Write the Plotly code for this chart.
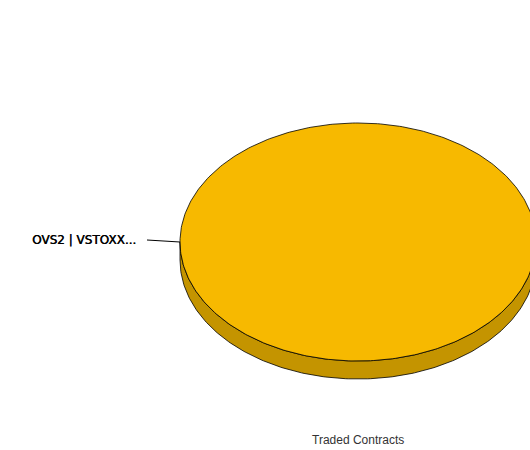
import numpy as np
import plotly.graph_objects as go

# ---- data ----
categories = ["OVS2 | VSTOXX..."]
values = [100.0]
title_text = "Traded Contracts"

# ---- layout parameters (pixels) ----
W, H = 530, 450
cx, cy = 358, 242
rx, ry = 178, 119
depth = 18
top_color = "#F7B900"
side_color = "#C49400"

fig = go.Figure()

total = sum(values)
start = -np.pi / 2
for cat, v in zip(categories, values):
    span = 2 * np.pi * v / total
    end = start + span
    a0, a1 = max(start, 0), min(end, np.pi)
    if end - start >= 2 * np.pi - 1e-9:
        a0, a1 = 0, np.pi
    t = np.linspace(a0, a1, 200)
    xs = np.concatenate([cx + rx * np.cos(t), (cx + rx * np.cos(t))[::-1]])
    ys = np.concatenate([cy + ry * np.sin(t), (cy + depth + ry * np.sin(t))[::-1]])
    fig.add_trace(go.Scatter(x=np.append(xs, xs[0]), y=np.append(ys, ys[0]),
                             mode="lines", fill="toself", fillcolor=side_color,
                             line=dict(color="black", width=0.8), hoverinfo="skip"))
    t = np.linspace(start, end, 400)
    xt = cx + rx * np.cos(t)
    yt = cy + ry * np.sin(t)
    if span < 2 * np.pi - 1e-9:
        xt = np.concatenate([[cx], xt, [cx]])
        yt = np.concatenate([[cy], yt, [cy]])
    fig.add_trace(go.Scatter(x=xt, y=yt, mode="lines", fill="toself",
                             fillcolor=top_color,
                             line=dict(color="black", width=0.8), hoverinfo="skip"))
    lx = cx - rx
    fig.add_trace(go.Scatter(x=[lx - 33, lx], y=[cy - 2, cy], mode="lines",
                             line=dict(color="black", width=1), hoverinfo="skip"))
    fig.add_annotation(x=lx - 42, y=cy - 2, text=cat, showarrow=False,
                       xanchor="right", yanchor="middle",
                       font=dict(family="DejaVu Sans", size=12, color="black",
                                 shadow="0.5px 0 0 black"))
    start = end

fig.add_annotation(x=cx, y=440, text=title_text, showarrow=False,
                   xanchor="center", yanchor="middle",
                   font=dict(family="Liberation Sans, Arial", size=12, color="#333333"))

fig.update_layout(
    width=W, height=H, margin=dict(l=0, r=0, t=0, b=0),
    paper_bgcolor="white", plot_bgcolor="white", showlegend=False,
    xaxis=dict(range=[0, W], visible=False, fixedrange=True),
    yaxis=dict(range=[H, 0], visible=False, fixedrange=True),
)
fig.write_html("out.html", config={"displayModeBar": False},
               post_script="document.body.style.margin='0';document.body.style.overflow='hidden';")
